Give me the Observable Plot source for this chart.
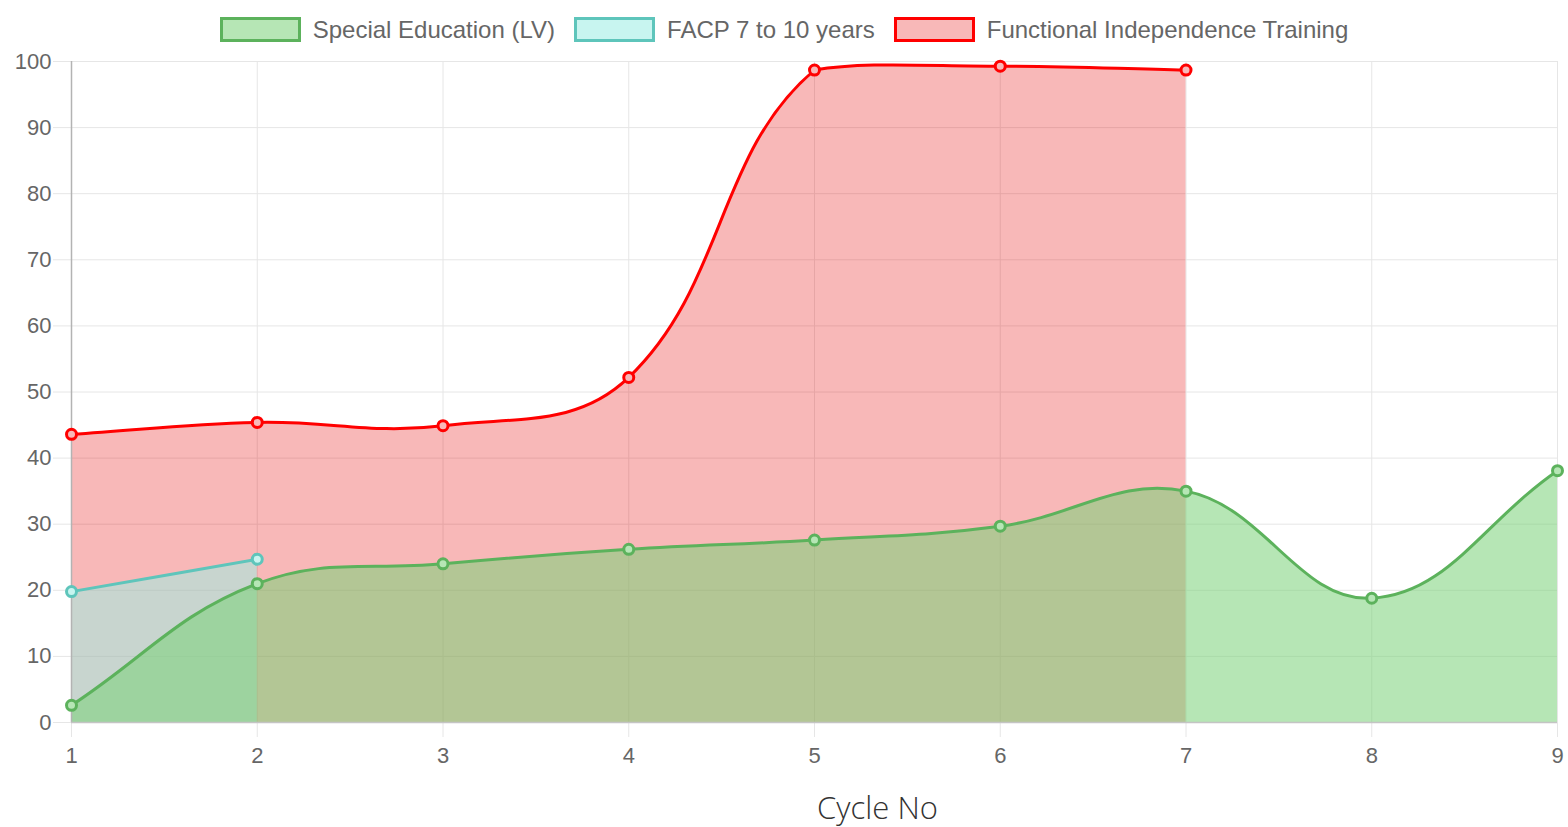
<!DOCTYPE html>
<html>
<head>
<meta charset="utf-8">
<script src="https://cdn.jsdelivr.net/npm/d3@7"></script>
<script src="https://cdn.jsdelivr.net/npm/@observablehq/plot@0.6"></script>
<style>
  html, body { margin: 0; padding: 0; background: #fff; }
  #wrap { width: 1568px; height: 827px; position: relative; }
  #legend { height: 48px; display: flex; justify-content: center; align-items: flex-start; padding-top: 17px; box-sizing: border-box;
    font-family: "Liberation Sans", Arial, sans-serif; font-size: 24px; color: #666; }
  .item { display: flex; align-items: center; margin: 0 9.5px; height: 25px; }
  .sw { width: 81px; height: 25px; border: 3px solid; margin-right: 12px; box-sizing: border-box; }
</style>
</head>
<body>
<div id="wrap">
  <div id="legend"></div>
  <div id="chart"></div>
</div>
<script>
// ---- data ----
const cycles = [1, 2, 3, 4, 5, 6, 7, 8, 9];
const specialEducation = [2.6, 21.0, 24.0, 26.2, 27.6, 29.7, 35.0, 18.8, 38.1];
const facpCycles = [1, 2];
const facp = [19.8, 24.7];
const fitCycles = [1, 2, 3, 4, 5, 6, 7];
const functionalIndependence = [43.6, 45.4, 44.9, 52.2, 98.7, 99.3, 98.7];
const seriesNames = ["Special Education (LV)", "FACP 7 to 10 years", "Functional Independence Training"];
const yTicks = [0, 10, 20, 30, 40, 50, 60, 70, 80, 90, 100];
const xLabel = "Cycle No";

const seData = cycles.map((c, i) => ({x: c, y: specialEducation[i]}));
const facpData = facpCycles.map((c, i) => ({x: c, y: facp[i]}));
const fitData = fitCycles.map((c, i) => ({x: c, y: functionalIndependence[i]}));

const styles = [
  {border: "#5cb25c", fill: "rgb(122,210,120)", fillOp: 0.55, swatch: "#b6e6b5"},
  {border: "#5ec5bb", fill: "rgb(152,242,230)", fillOp: 0.5, swatch: "#c8f5f0"},
  {border: "#ff0000", fill: "rgb(230,0,0)", fillOp: 0.28, swatch: "#f8b8b8"}
];

// layout
const W = 1568, H = 779, MT = 13, MB = 105, ML = 71, MR = 11;
const area = {left: ML, right: W - MR, top: MT, bottom: H - MB};

// legend
const legend = document.getElementById("legend");
seriesNames.forEach((n, i) => {
  const it = document.createElement("div");
  it.className = "item";
  const sw = document.createElement("div");
  sw.className = "sw";
  sw.style.borderColor = styles[i].border;
  sw.style.background = styles[i].swatch;
  const t = document.createElement("span");
  t.textContent = n;
  it.appendChild(sw); it.appendChild(t);
  legend.appendChild(it);
});

// Chart.js-like bezier spline (tension 0.4, control points capped to chart area)
class SplineCurve {
  constructor(ctx, t) { this._context = ctx; this._t = t; }
  areaStart() { this._line = 0; }
  areaEnd() { this._line = NaN; }
  lineStart() { this._pts = []; }
  point(x, y) { this._pts.push({x: +x, y: +y}); }
  lineEnd() {
    const p = this._pts, n = p.length, c = this._context, t = this._t;
    if (n) {
      if (this._line) c.lineTo(p[0].x, p[0].y); else c.moveTo(p[0].x, p[0].y);
      let prev = p[0];
      for (let i = 0; i < n; i++) {
        const cur = p[i], next = p[Math.min(i + 1, n - 1)];
        const d01 = Math.hypot(cur.x - prev.x, cur.y - prev.y);
        const d12 = Math.hypot(next.x - cur.x, next.y - cur.y);
        let s01 = d01 / (d01 + d12), s12 = d12 / (d01 + d12);
        if (isNaN(s01)) s01 = 0; if (isNaN(s12)) s12 = 0;
        const fa = t * s01, fb = t * s12;
        cur.cp1x = cur.x - fa * (next.x - prev.x); cur.cp1y = cur.y - fa * (next.y - prev.y);
        cur.cp2x = cur.x + fb * (next.x - prev.x); cur.cp2y = cur.y + fb * (next.y - prev.y);
        prev = cur;
      }
      const inA = q => q.x >= area.left - 0.5 && q.x <= area.right + 0.5 && q.y >= area.top - 0.5 && q.y <= area.bottom + 0.5;
      const cap = (v, lo, hi) => Math.max(Math.min(v, hi), lo);
      for (let i = 0; i < n; i++) {
        const q = p[i];
        if (!inA(q)) continue;
        if (i > 0 && inA(p[i - 1])) { q.cp1x = cap(q.cp1x, area.left, area.right); q.cp1y = cap(q.cp1y, area.top, area.bottom); }
        if (i < n - 1 && inA(p[i + 1])) { q.cp2x = cap(q.cp2x, area.left, area.right); q.cp2y = cap(q.cp2y, area.top, area.bottom); }
      }
      for (let i = 1; i < n; i++) {
        c.bezierCurveTo(p[i - 1].cp2x, p[i - 1].cp2y, p[i].cp1x, p[i].cp1y, p[i].x, p[i].y);
      }
    }
    if (this._line || (this._line !== 0 && n === 1)) c.closePath();
    this._line = 1 - this._line;
  }
}
const curve = ctx => new SplineCurve(ctx, 0.4);
const grid = "#e6e6e6";

const chart = Plot.plot({
  width: W,
  height: H,
  marginTop: MT,
  marginBottom: MB,
  marginLeft: ML,
  marginRight: MR,
  style: {fontFamily: "'Liberation Sans', Arial, sans-serif", fontSize: "22px", color: "#666", background: "#fff"},
  x: {domain: [1, 9], ticks: cycles},
  y: {domain: [0, 100], ticks: yTicks},
  marks: [
    Plot.gridX(cycles, {stroke: grid, strokeOpacity: 1}),
    Plot.gridY(yTicks, {stroke: grid, strokeOpacity: 1}),
    // fills (bottom-most dataset first)
    Plot.areaY(fitData, {x: "x", y: "y", curve, fill: styles[2].fill, fillOpacity: styles[2].fillOp}),
    Plot.areaY(facpData, {x: "x", y: "y", curve, fill: styles[1].fill, fillOpacity: styles[1].fillOp}),
    Plot.areaY(seData, {x: "x", y: "y", curve, fill: styles[0].fill, fillOpacity: styles[0].fillOp}),
    Plot.axisX({ticks: cycles, tickSize: 15, tickPadding: 10, stroke: grid, label: null, fontSize: 22}),
    Plot.axisY({ticks: yTicks, tickSize: 18, tickPadding: 2, stroke: grid, label: null, fontSize: 22}),
    Plot.ruleX([1], {stroke: "#b3b3b3", strokeWidth: 1.5}),
    Plot.ruleY([0], {stroke: "#c4c4c4", strokeWidth: 1.5}),
    // lines
    Plot.lineY(fitData, {x: "x", y: "y", curve, stroke: styles[2].border, strokeWidth: 3}),
    Plot.lineY(facpData, {x: "x", y: "y", curve, stroke: styles[1].border, strokeWidth: 3}),
    Plot.lineY(seData, {x: "x", y: "y", curve, stroke: styles[0].border, strokeWidth: 3}),
    // points
    Plot.dot(fitData, {x: "x", y: "y", r: 5, stroke: styles[2].border, strokeWidth: 3, fill: styles[2].swatch}),
    Plot.dot(facpData, {x: "x", y: "y", r: 5, stroke: styles[1].border, strokeWidth: 3, fill: styles[1].swatch}),
    Plot.dot(seData, {x: "x", y: "y", r: 5, stroke: styles[0].border, strokeWidth: 3, fill: styles[0].swatch}),
    Plot.text([xLabel], {frameAnchor: "bottom", dx: 63, dy: 96, text: d => d, fontSize: 31, fill: "#333", fontFamily: "'Open Sans', sans-serif", fontWeight: 300})
  ]
});
document.getElementById("chart").appendChild(chart);
</script>
</body>
</html>
